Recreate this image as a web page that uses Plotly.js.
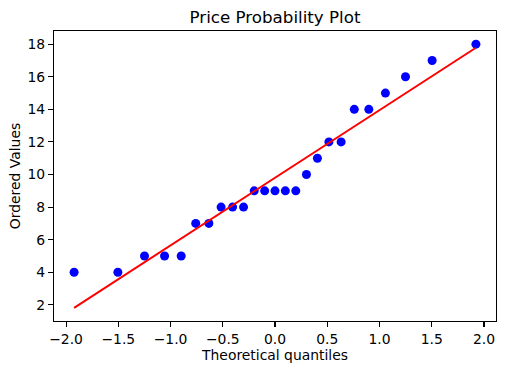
<!DOCTYPE html>
<html>
<head>
<meta charset="utf-8">
<script src="https://cdn.plot.ly/plotly-3.0.1.min.js"></script>
<style>html,body{margin:0;padding:0;background:#fff;}#chart{width:529px;height:376px;}</style>
</head>
<body>
<div id="chart"></div>
<script>
// Theoretical quantiles
const theoreticalQuantiles = [-1.923, -1.504, -1.249, -1.057, -0.898, -0.759, -0.633, -0.516, -0.406, -0.301, -0.199, -0.099, 0.0,
  0.099, 0.199, 0.301, 0.406, 0.516, 0.633, 0.759, 0.898, 1.057, 1.249, 1.504, 1.923];
// Ordered values
const orderedValues = [4, 4, 5, 5, 5, 7, 7, 8, 8, 8, 9, 9, 9, 9, 9, 10, 11, 12, 12, 14, 14, 15, 16, 17, 18];
const xTickVals = [-2.0, -1.5, -1.0, -0.5, 0.0, 0.5, 1.0, 1.5, 2.0];
const yTickVals = [2, 4, 6, 8, 10, 12, 14, 16, 18];

// least-squares fit line (as scipy probplot does)
const n = theoreticalQuantiles.length;
const mx = theoreticalQuantiles.reduce((a, b) => a + b, 0) / n;
const my = orderedValues.reduce((a, b) => a + b, 0) / n;
let sxy = 0, sxx = 0;
for (let i = 0; i < n; i++) {
  sxy += (theoreticalQuantiles[i] - mx) * (orderedValues[i] - my);
  sxx += (theoreticalQuantiles[i] - mx) ** 2;
}
const slope = sxy / sxx, intercept = my - slope * mx;
const fitY = theoreticalQuantiles.map(x => slope * x + intercept);

const xmin = Math.min(...theoreticalQuantiles), xmax = Math.max(...theoreticalQuantiles);
const ymin = Math.min(...orderedValues, ...fitY), ymax = Math.max(...orderedValues, ...fitY);
const xpad = (xmax - xmin) * 0.05, ypad = (ymax - ymin) * 0.05;

const font = {family: 'DejaVu Sans', size: 13.9, color: '#000'};
const traces = [
  {x: theoreticalQuantiles, y: orderedValues, mode: 'markers', type: 'scatter',
   marker: {color: '#0000ff', size: 9}, showlegend: false, hoverinfo: 'skip'},
  {x: theoreticalQuantiles, y: fitY, mode: 'lines', type: 'scatter',
   line: {color: '#ff0000', width: 2}, showlegend: false, hoverinfo: 'skip'}
];
const axisCommon = {
  showgrid: false, zeroline: false, showline: true, mirror: true,
  linecolor: '#000', linewidth: 1.1, ticks: 'outside', ticklen: 5, tickwidth: 1.1,
  tickcolor: '#000', tickfont: font
};
const layout = {
  width: 529, height: 376,
  margin: {l: 54.3, r: 33.3, t: 30.7, b: 55, pad: 0},
  paper_bgcolor: '#fff', plot_bgcolor: '#fff',
  font: font,
  title: {text: 'Price Probability Plot', font: {family: 'DejaVu Sans', size: 16.7, color: '#000'},
    x: 0.5, xanchor: 'center', xref: 'paper', y: 1 - 17 / 376, yanchor: 'middle', yref: 'container'},
  xaxis: Object.assign({}, axisCommon, {
    range: [xmin - xpad, xmax + xpad], tickvals: xTickVals, tickformat: '.1f',
    title: {text: 'Theoretical quantiles', font: font, standoff: 3}
  }),
  yaxis: Object.assign({}, axisCommon, {
    range: [ymin - ypad, ymax + ypad], tickvals: yTickVals,
    title: {text: 'Ordered Values', font: font, standoff: 3}
  })
};
Plotly.newPlot('chart', traces, layout, {staticPlot: true, displayModeBar: false});
</script>
</body>
</html>
